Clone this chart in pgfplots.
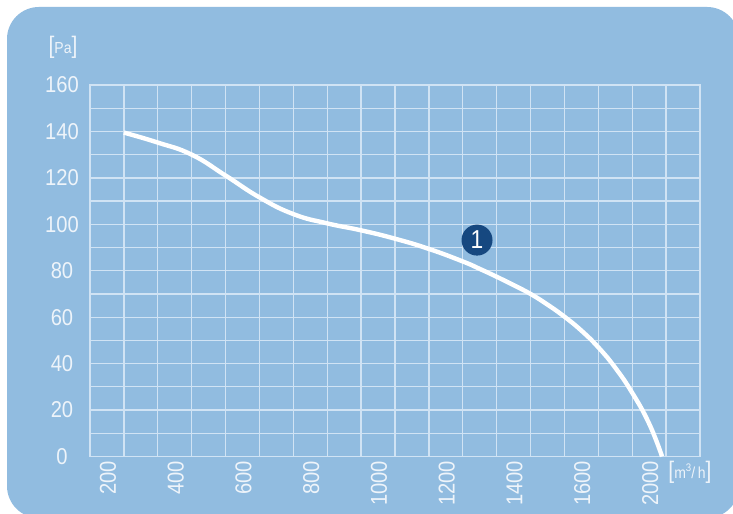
\documentclass[border=0pt]{standalone}
\usepackage{fontspec}
\setmainfont{Liberation Sans}[FakeStretch=0.88]
\usepackage{pgfplots}
\pgfplotsset{compat=1.18}
\definecolor{bgblue}{RGB}{145,188,224}
\definecolor{gridc}{RGB}{208,227,244}
\definecolor{textc}{RGB}{238,244,250}
\definecolor{navy}{RGB}{22,72,128}
\begin{document}
\begin{tikzpicture}[x=0.5bp,y=0.5bp]
\useasboundingbox (0,0) rectangle (733,514);
\clip (0,0) rectangle (733,514);
\fill[white] (0,0) rectangle (733,514);
\fill[bgblue, rounded corners=16bp] (7,-4) rectangle (739,507);
\begin{axis}[
    at={(45bp,28.75bp)}, anchor=south west,
    scale only axis,
    width=305bp, height=185.75bp,
    xmin=100, xmax=1900, ymin=0, ymax=160,
    xtick={200,400,...,1800},
    xticklabels={200,400,600,800,1000,1200,1400,1600,2000},
    ytick={0,20,...,160},
    minor xtick={100,300,...,1900},
    minor ytick={10,30,...,150},
    grid=both,
    grid style={gridc, line width=0.65bp},
    major grid style={gridc, line width=0.65bp},
    minor grid style={gridc, line width=0.65bp},
    axis line style={gridc, line width=0.65bp},
    major tick length=0pt, minor tick length=0pt,
    tick style={draw=none},
    ticklabel style={font=\fontsize{11.5}{13}\selectfont, text=textc},
    xticklabel style={xshift=-8bp, rotate=90, anchor=east, inner sep=2bp},
    yticklabel style={anchor=center, xshift=-14bp},
    /pgf/number format/assume math mode=true,
    clip=false,
  ]
  \addplot[white, line width=2.2bp, smooth, tension=0.8] coordinates {
    (200,139.5) (300,135.2) (400,130.0) (500,121.0) (600,111.6)
    (700,104.4) (800,100.4) (900,97.4) (1000,93.8) (1100,89.4)
    (1200,84.0) (1250,80.8) (1300,77.4) (1350,73.8) (1400,70.0)
    (1450,65.4) (1500,60.2) (1550,54.2) (1600,47.0) (1650,38.2)
    (1700,27.4) (1750,14.1) (1788,0)
  };
  \node[circle, fill=navy, minimum size=15.5bp, inner sep=0pt, text=white,
        font=\fontsize{13}{13}\selectfont] at (axis cs:1242,93.2) {1};
\end{axis}
\node[text=textc, inner sep=0pt] at (63,467)
  {\fontsize{12}{13}\selectfont[\fontsize{8}{9}\selectfont Pa\fontsize{12}{13}\selectfont]};
\node[text=textc, inner sep=0pt] at (690,42)
  {\fontsize{12}{13}\selectfont[\fontsize{8}{9}\selectfont m\raisebox{3.5bp}{\fontsize{5.5}{6}\selectfont 3}/\,h\fontsize{12}{13}\selectfont]};
\end{tikzpicture}
\end{document}
